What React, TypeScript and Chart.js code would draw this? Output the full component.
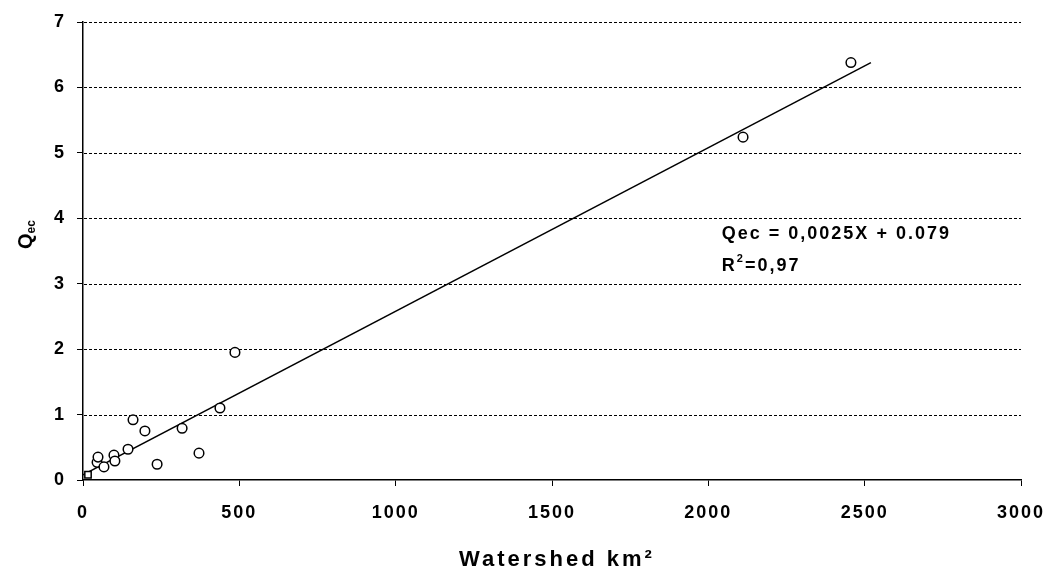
import React, { useEffect, useRef } from 'react';
import { Chart, registerables } from 'chart.js';

Chart.register(...registerables);

// ---- data ----
const watershedKm2 = [45, 48, 67, 99, 102, 144, 160, 198, 237, 317, 371, 438, 486, 2111, 2456];
const qecValues = [0.27, 0.35, 0.2, 0.38, 0.29, 0.47, 0.92, 0.75, 0.24, 0.79, 0.41, 1.1, 1.95, 5.24, 6.38];
const trendX = [0, 2520];
const trendY = [0.079, 6.379];
const originMarkerX = [16];
const originMarkerY = [0.08];
const xTickValues = [0, 500, 1000, 1500, 2000, 2500, 3000];
const yTickValues = [0, 1, 2, 3, 4, 5, 6, 7];
const xTitle = 'Watershed km²';
const yTitleMain = 'Q';
const yTitleSub = 'ec';
const equationText = 'Qec = 0,0025X + 0.079';
const r2Label = 'R';
const r2Sup = '2';
const r2Value = '=0,97';

const FONT = '"Liberation Sans", Arial, sans-serif';

const decorPlugin = {
  id: 'decor',
  beforeDraw(chart: any) {
    const ctx = chart.ctx;
    ctx.save();
    ctx.fillStyle = '#fff';
    ctx.fillRect(0, 0, chart.width, chart.height);
    ctx.restore();
    (ctx as any).letterSpacing = '2px';
  },
  beforeDatasetsDraw(chart: any) {
    const { ctx, chartArea, scales } = chart;
    const y = scales.y;
    ctx.save();
    (ctx as any).letterSpacing = '0px';
    ctx.strokeStyle = '#000';
    ctx.lineWidth = 1.2;
    ctx.setLineDash([3, 2]);
    yTickValues.forEach((v) => {
      if (v === 0) return;
      const py = Math.round(y.getPixelForValue(v)) + 0.5;
      ctx.beginPath();
      ctx.moveTo(chartArea.left + 1, py);
      ctx.lineTo(chartArea.right, py);
      ctx.stroke();
    });
    ctx.restore();
  },
  afterDraw(chart: any) {
    const { ctx, chartArea, scales } = chart;
    ctx.save();
    ctx.fillStyle = '#000';
    // x title
    (ctx as any).letterSpacing = '3px';
    ctx.font = `bold 22px ${FONT}`;
    ctx.textAlign = 'center';
    ctx.textBaseline = 'alphabetic';
    ctx.fillText(xTitle, (chartArea.left + chartArea.right) / 2 + 5, 566);

    // y title (rotated, with subscript)
    (ctx as any).letterSpacing = '0px';
    ctx.save();
    ctx.translate(32, 249);
    ctx.rotate(-Math.PI / 2);
    ctx.textAlign = 'left';
    ctx.font = `bold 20px ${FONT}`;
    ctx.fillText(yTitleMain, 0, 0);
    const qw = ctx.measureText(yTitleMain).width;
    ctx.font = `bold 12px ${FONT}`;
    ctx.fillText(yTitleSub, qw, 3);
    ctx.restore();

    // regression annotation
    const ax = scales.x.getPixelForValue(2043);
    const ay1 = scales.y.getPixelForValue(3.68);
    const ay2 = scales.y.getPixelForValue(3.19);
    (ctx as any).letterSpacing = '2px';
    ctx.textAlign = 'left';
    ctx.font = `bold 18px ${FONT}`;
    ctx.fillText(equationText, ax, ay1);
    ctx.fillText(r2Label, ax, ay2);
    let w = ctx.measureText(r2Label).width;
    ctx.font = `bold 11px ${FONT}`;
    ctx.fillText(r2Sup, ax + w, ay2 - 9);
    w += ctx.measureText(r2Sup).width;
    ctx.font = `bold 18px ${FONT}`;
    ctx.fillText(r2Value, ax + w, ay2);
    ctx.restore();
  },
};

export default function App() {
  const ref = useRef<HTMLCanvasElement | null>(null);

  useEffect(() => {
    if (!ref.current) return;
    const points = watershedKm2.map((x, i) => ({ x, y: qecValues[i] }));
    const trend = trendX.map((x, i) => ({ x, y: trendY[i] }));
    const origin = originMarkerX.map((x, i) => ({ x, y: originMarkerY[i] }));
    const chart = new Chart(ref.current, {
      type: 'scatter',
      data: {
        datasets: [
          {
            type: 'line',
            label: 'Trend',
            data: trend,
            borderColor: '#000',
            borderWidth: 1.5,
            pointRadius: 0,
            fill: false,
            order: 2,
          } as any,
          {
            label: 'Qec',
            data: points,
            pointRadius: 4.8,
            pointBorderWidth: 1.5,
            pointBorderColor: '#000',
            pointBackgroundColor: '#fff',
            borderColor: '#000',
            backgroundColor: '#fff',
            order: 1,
          },
          {
            label: 'origin',
            data: origin,
            pointStyle: 'rect',
            pointRadius: 4.5,
            pointBorderWidth: 1.5,
            pointBorderColor: '#000',
            pointBackgroundColor: '#fff',
            order: 0,
          },
        ],
      },
      options: {
        responsive: false,
        animation: false,
        layout: { padding: { top: 22, right: 26, left: 0, bottom: 0 } },
        plugins: {
          legend: { display: false },
          tooltip: { enabled: false },
          title: { display: false },
        },
        scales: {
          x: {
            type: 'linear',
            min: 0,
            max: 3000,
            afterFit(scale: any) {
              scale.height = 89;
              scale.paddingLeft = 0;
              scale.paddingRight = 0;
            },
            afterBuildTicks(scale: any) {
              scale.ticks = xTickValues.map((v) => ({ value: v }));
            },
            ticks: {
              color: '#000',
              font: { family: FONT, size: 18, weight: 'bold' },
              padding: 16,
              maxRotation: 0,
              autoSkip: false,
              callback: (v: any) => String(v),
            },
            grid: {
              drawOnChartArea: false,
              drawTicks: true,
              tickLength: 6,
              color: '#000',
              lineWidth: 1,
            },
            border: { display: true, color: '#000', width: 1.5 },
            title: { display: false },
          },
          y: {
            type: 'linear',
            min: 0,
            max: 7,
            afterFit(scale: any) {
              scale.width = 83;
              scale.paddingTop = 0;
              scale.paddingBottom = 0;
            },
            afterBuildTicks(scale: any) {
              scale.ticks = yTickValues.map((v) => ({ value: v }));
            },
            ticks: {
              color: '#000',
              font: { family: FONT, size: 18, weight: 'bold' },
              padding: 11,
              autoSkip: false,
              callback: (v: any) => String(v),
            },
            grid: {
              drawOnChartArea: false,
              drawTicks: true,
              tickLength: 6,
              color: '#000',
              lineWidth: 1,
            },
            border: { display: true, color: '#000', width: 1.5 },
            title: { display: false },
          },
        },
      },
      plugins: [decorPlugin],
    });
    return () => chart.destroy();
  }, []);

  return (
    <div style={{ position: 'absolute', left: 0, top: 0, width: 1047, height: 569 }}>
      <canvas ref={ref} width={1047} height={569} style={{ display: 'block', width: 1047, height: 569 }} />
    </div>
  );
}
